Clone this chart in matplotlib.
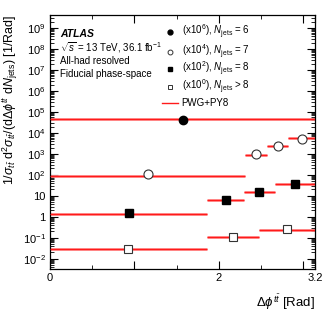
import numpy as np
import matplotlib
matplotlib.use("Agg")
import matplotlib.pyplot as plt
from matplotlib.ticker import FixedLocator, LogLocator, NullFormatter, FuncFormatter

plt.rcParams['font.family'] = ['Liberation Sans', 'DejaVu Sans']
plt.rcParams['mathtext.fontset'] = 'custom'
plt.rcParams['mathtext.rm'] = 'Liberation Sans'
plt.rcParams['mathtext.it'] = 'Liberation Sans:italic'
plt.rcParams['mathtext.bf'] = 'Liberation Sans:bold'

PI = np.pi
# Njets = 6 (scaled x1e6)
edges6 = [0.0, PI]
model6 = [0.046]
data6 = [0.043]
scale6 = 1e6
# Njets = 7 (scaled x1e4)
edges7 = [0.0, 2.316, 2.576, 2.824, PI]
model7 = [0.0091, 0.085, 0.236, 0.55]
data7 = [0.0109, 0.098, 0.23, 0.49]
scale7 = 1e4
# Njets = 8 (scaled x1e2)
edges8 = [0.0, 1.866, 2.297, 2.668, PI]
model8 = [0.0140, 0.0607, 0.151, 0.352]
data8 = [0.0146, 0.060, 0.146, 0.36]
scale8 = 1e2
# Njets > 8 (scaled x1)
edges9 = [0.0, 1.86, 2.476, PI]
model9 = [0.028, 0.108, 0.233]
data9 = [0.028, 0.11, 0.25]
scale9 = 1.0

legend_labels = [r'(x10$^{6}$), $N_{\rm jets}$ = 6',
                 r'(x10$^{4}$), $N_{\rm jets}$ = 7',
                 r'(x10$^{2}$), $N_{\rm jets}$ = 8',
                 r'(x10$^{0}$), $N_{\rm jets}$ > 8']
model_label = 'PWG+PY8'

fig = plt.figure(figsize=(3.32, 3.22), dpi=100)
ax = fig.add_axes([0.1506, 0.1637, 0.7982, 0.7897])

series = [
    (edges6, model6, data6, scale6, dict(marker='o', ms=6, mfc='black', mec='black')),
    (edges7, model7, data7, scale7, dict(marker='o', ms=6.5, mfc='white', mec='#333333', mew=0.8)),
    (edges8, model8, data8, scale8, dict(marker='s', ms=6, mfc='black', mec='black')),
    (edges9, model9, data9, scale9, dict(marker='s', ms=6, mfc='white', mec='#333333', mew=0.8)),
]

for edges, model, data, scale, mk in series:
    e = np.array(edges)
    m = np.array(model) * scale
    d = np.array(data) * scale
    ax.hlines(m, e[:-1], e[1:], colors='#ff8080', lw=2.0, zorder=2)
    ax.hlines(m, e[:-1], e[1:], colors='#ff1a1a', lw=0.8, zorder=3)
    centers = 0.5 * (e[:-1] + e[1:])
    ax.plot(centers, d, linestyle='none', zorder=4, **mk)

ax.set_yscale('log')
ax.set_xlim(0, PI)
ax.set_ylim(10**-2.505, 10**9.62)

ax.xaxis.set_major_locator(FixedLocator([0, 1, 2, 3, PI]))
ax.set_xticklabels(['0', '', '2', '', '3.2'])
ax.xaxis.set_minor_locator(FixedLocator([0.5, 1.5, 2.5]))

def yfmt(v, pos):
    k = int(round(np.log10(v)))
    if k == 0:
        return '1'
    if k == 1:
        return '10'
    return r'10$^{%d}$' % k

ax.yaxis.set_major_locator(LogLocator(base=10, numticks=30))
ax.yaxis.set_major_formatter(FuncFormatter(yfmt))
ax.yaxis.set_minor_locator(LogLocator(base=10, subs=np.arange(2, 10), numticks=30))
ax.yaxis.set_minor_formatter(NullFormatter())

ax.tick_params(which='both', direction='in', top=True, right=True, labelsize=8, pad=3)
ax.tick_params(which='major', length=6, width=0.8)
ax.tick_params(which='minor', length=3, width=0.6)
for s in ax.spines.values():
    s.set_linewidth(0.9)

ax.set_xlabel(r'$\Delta\phi^{t\bar{t}}$ [Rad]', fontsize=9.5, loc='right', labelpad=6)
ax.set_ylabel(r'$1/\sigma_{t\bar{t}}\ \mathrm{d}^2\sigma_{t\bar{t}}/(\mathrm{d}\Delta\phi^{t\bar{t}}\ \mathrm{d}N_{\rm jets})$ [1/Rad]',
              fontsize=9, loc='top', labelpad=2)

# ATLAS labels
ax.text(0.038, 0.925, 'ATLAS', transform=ax.transAxes, fontsize=7.5, fontweight='bold',
        fontstyle='italic', va='center', ha='left')
ax.text(0.038, 0.870, r'$\sqrt{s}$ = 13 TeV, 36.1 fb$^{-1}$', transform=ax.transAxes,
        fontsize=7, va='center', ha='left')
ax.text(0.038, 0.819, 'All-had resolved', transform=ax.transAxes, fontsize=7, va='center', ha='left')
ax.text(0.038, 0.768, 'Fiducial phase-space', transform=ax.transAxes, fontsize=7, va='center', ha='left')

# Legend (manual)
leg_y = [0.932, 0.856, 0.787, 0.716]
leg_mk = [dict(marker='o', ms=3.5, mfc='black', mec='black'),
          dict(marker='o', ms=3.5, mfc='white', mec='#333333', mew=0.7),
          dict(marker='s', ms=3.5, mfc='black', mec='black'),
          dict(marker='s', ms=3.5, mfc='white', mec='#333333', mew=0.7)]
for yy, lab, mk in zip(leg_y, legend_labels, leg_mk):
    ax.plot([0.454], [yy], transform=ax.transAxes, linestyle='none', **mk)
    ax.text(0.497, yy, lab, transform=ax.transAxes, fontsize=7, va='center', ha='left')
ax.plot([0.423, 0.483], [0.653, 0.653], transform=ax.transAxes, color='#ff1a1a', lw=1.0)
ax.text(0.497, 0.653, model_label, transform=ax.transAxes, fontsize=7, va='center', ha='left')

fig.savefig('out.png', dpi=100)
